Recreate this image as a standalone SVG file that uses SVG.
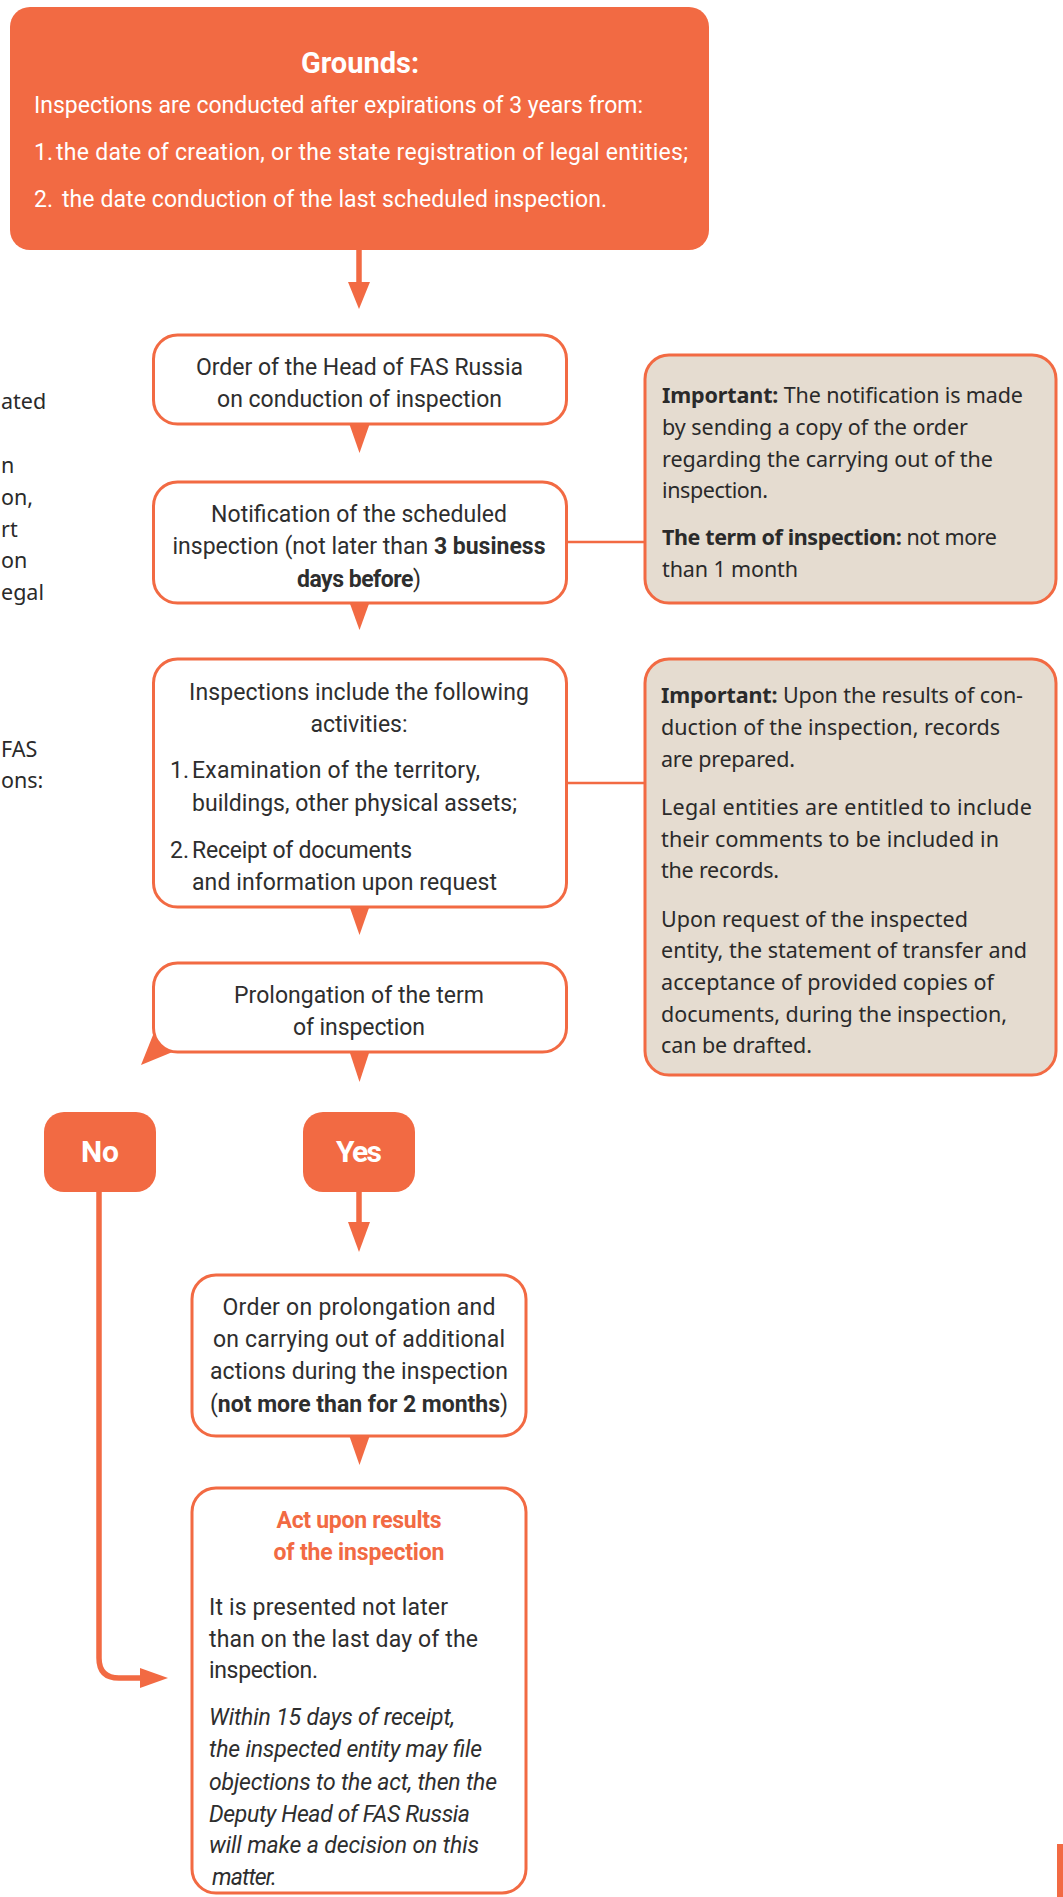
<svg xmlns="http://www.w3.org/2000/svg" width="1063" height="1897" viewBox="0 0 1063 1897">
<defs>
<style>
.o{fill:#F26A43}
.t{font-family:Roboto,"Liberation Sans",sans-serif;font-size:23px;fill:#2E2E2E}
.c{text-anchor:middle}
.e{text-anchor:end}
.w{fill:#FFFFFF}
.b{font-weight:bold}
.i{font-style:italic}
.n{font-family:"Noto Sans","Open Sans",sans-serif;font-size:21.5px;fill:#2A2A2A}
.box{fill:#FFFFFF;stroke:#F26A43;stroke-width:3}
.note{fill:#E5DCD0;stroke:#F26A43;stroke-width:3}
.ln{stroke:#F26A43;stroke-width:5.5;fill:none}
.thin{stroke:#F26A43;stroke-width:2.5;fill:none}
</style>
</defs>
<rect width="1063" height="1897" fill="#FFFFFF"/>

<g id="left-fragments" class="n">
<text x="1" y="409">ated</text>
<text x="1" y="473">n</text>
<text x="1" y="505">on,</text>
<text x="1" y="537">rt</text>
<text x="1" y="568">on</text>
<text x="1" y="600">egal</text>
<text x="1" y="757">FAS</text>
<text x="1" y="788">ons:</text>
</g>

<g id="connectors">
<line class="ln" x1="359" y1="250" x2="359" y2="285"/>
<polygon class="o" points="348,282 370,282 359,309"/>
<line class="thin" x1="566" y1="542" x2="645" y2="542"/>
<line class="thin" x1="566" y1="783" x2="645" y2="783"/>
<line class="ln" x1="359" y1="1191" x2="359" y2="1225"/>
<polygon class="o" points="348,1222 370,1222 359,1252"/>
<path class="ln" d="M99,1191 V1658 Q99,1678 119,1678 H143"/>
<polygon class="o" points="140,1668 168,1678 140,1688"/>
<polygon class="o" points="349,1435 370,1435 359.5,1465"/>
</g>

<g id="grounds">
<rect class="o" x="10" y="7" width="699" height="243" rx="20"/>
<text class="t w b c" x="360" y="73" style="font-size:29px">Grounds:</text>
<text class="t w" x="34" y="113" textLength="609">Inspections are conducted after expirations of 3 years from:</text>
<text class="t w" x="34" y="160">1.</text>
<text class="t w" x="56" y="160" textLength="632">the date of creation, or the state registration of legal entities;</text>
<text class="t w" x="34" y="207">2.</text>
<text class="t w" x="62" y="207" textLength="545">the date conduction of the last scheduled inspection.</text>
</g>

<g id="order">
<polygon class="o" points="349,423 370,423 359.5,453"/>
<rect class="box" x="153.5" y="335" width="413" height="89" rx="24"/>
<text class="t c" x="359.5" y="375" textLength="327">Order of the Head of FAS Russia</text>
<text class="t c" x="359.5" y="407" textLength="285">on conduction of inspection</text>
</g>

<g id="notification">
<polygon class="o" points="349,601 370,601 359.5,630"/>
<rect class="box" x="153.5" y="482" width="413" height="121" rx="24"/>
<text class="t c" x="359" y="522" textLength="296">Notification of the scheduled</text>
<text class="t c" x="359" y="554" textLength="373">inspection (not later than <tspan class="b">3 business</tspan></text>
<text class="t c" x="359" y="587" textLength="124"><tspan class="b">days before</tspan>)</text>
</g>

<g id="note-notification">
<rect class="note" x="645" y="355" width="411" height="248" rx="24"/>
<text class="n" x="662" y="403" textLength="361"><tspan class="b">Important:</tspan> The notification is made</text>
<text class="n" x="662" y="435" textLength="306">by sending a copy of the order</text>
<text class="n" x="662" y="467" textLength="331">regarding the carrying out of the</text>
<text class="n" x="662" y="498" textLength="106">inspection.</text>
<text class="n" x="662" y="545" textLength="335"><tspan class="b">The term of inspection:</tspan> not more</text>
<text class="n" x="662" y="577" textLength="136">than 1 month</text>
</g>

<g id="activities">
<polygon class="o" points="349,905 370,905 359.5,935"/>
<rect class="box" x="153.5" y="659" width="413" height="248" rx="24"/>
<text class="t c" x="359" y="700" textLength="340">Inspections include the following</text>
<text class="t c" x="359" y="732" textLength="97">activities:</text>
<text class="t" x="170" y="778">1.</text>
<text class="t" x="192" y="778" textLength="288">Examination of the territory,</text>
<text class="t" x="192" y="811" textLength="325">buildings, other physical assets;</text>
<text class="t" x="170" y="858">2.</text>
<text class="t" x="192" y="858" textLength="220">Receipt of documents</text>
<text class="t" x="192" y="890" textLength="305">and information upon request</text>
</g>

<g id="note-records">
<rect class="note" x="645" y="659" width="411" height="416" rx="24"/>
<text class="n" x="661" y="703" textLength="362"><tspan class="b">Important:</tspan> Upon the results of con-</text>
<text class="n" x="661" y="735" textLength="339">duction of the inspection, records</text>
<text class="n" x="661" y="767" textLength="134">are prepared.</text>
<text class="n" x="661" y="815" textLength="371">Legal entities are entitled to include</text>
<text class="n" x="661" y="847" textLength="338">their comments to be included in</text>
<text class="n" x="661" y="878" textLength="118">the records.</text>
<text class="n" x="661" y="927" textLength="307">Upon request of the inspected</text>
<text class="n" x="661" y="958" textLength="366">entity, the statement of transfer and</text>
<text class="n" x="661" y="990" textLength="333">acceptance of provided copies of</text>
<text class="n" x="661" y="1022" textLength="346">documents, during the inspection,</text>
<text class="n" x="661" y="1053" textLength="151">can be drafted.</text>
</g>

<g id="prolongation">
<polygon class="o" points="155,1030 175,1051 141,1065"/>
<polygon class="o" points="349,1050 370,1050 359.5,1082"/>
<rect class="box" x="153.5" y="963" width="413" height="89" rx="24"/>
<text class="t c" x="359" y="1003" textLength="250">Prolongation of the term</text>
<text class="t c" x="359" y="1035" textLength="132">of inspection</text>
</g>

<g id="no">
<rect class="o" x="44" y="1112" width="112" height="80" rx="20"/>
<text class="t w b c" x="100" y="1162" style="font-size:30px" textLength="38">No</text>
</g>

<g id="yes">
<rect class="o" x="303" y="1112" width="112" height="80" rx="20"/>
<text class="t w b c" x="359" y="1162" style="font-size:30px" textLength="46">Yes</text>
</g>

<g id="order-prolongation">
<rect class="box" x="192" y="1275" width="334" height="161" rx="24"/>
<text class="t c" x="359" y="1315" textLength="273">Order on prolongation and</text>
<text class="t c" x="359" y="1347" textLength="292">on carrying out of additional</text>
<text class="t c" x="359" y="1379" textLength="298">actions during the inspection</text>
<text class="t c" x="359" y="1412" textLength="298">(<tspan class="b">not more than for 2 months</tspan>)</text>
</g>

<g id="act">
<rect class="box" x="192" y="1488" width="334" height="405" rx="24"/>
<text class="t b c" x="359" y="1528" style="fill:#F26A43" textLength="165">Act upon results</text>
<text class="t b c" x="359" y="1560" style="fill:#F26A43" textLength="171">of the inspection</text>
<text class="t" x="209" y="1615" textLength="239">It is presented not later</text>
<text class="t" x="209" y="1647" textLength="269">than on the last day of the</text>
<text class="t" x="209" y="1678" textLength="109">inspection.</text>
<text class="t i" x="209" y="1725" textLength="246">Within 15 days of receipt,</text>
<text class="t i" x="209" y="1757" textLength="273">the inspected entity may file</text>
<text class="t i" x="209" y="1790" textLength="288">objections to the act, then the</text>
<text class="t i" x="209" y="1822" textLength="261">Deputy Head of FAS Russia</text>
<text class="t i" x="209" y="1853" textLength="270">will make a decision on this</text>
<text class="t i" x="212" y="1885" textLength="65">matter.</text>
</g>

<rect id="edge-bar" class="o" x="1057" y="1844" width="6" height="53"/>
</svg>
